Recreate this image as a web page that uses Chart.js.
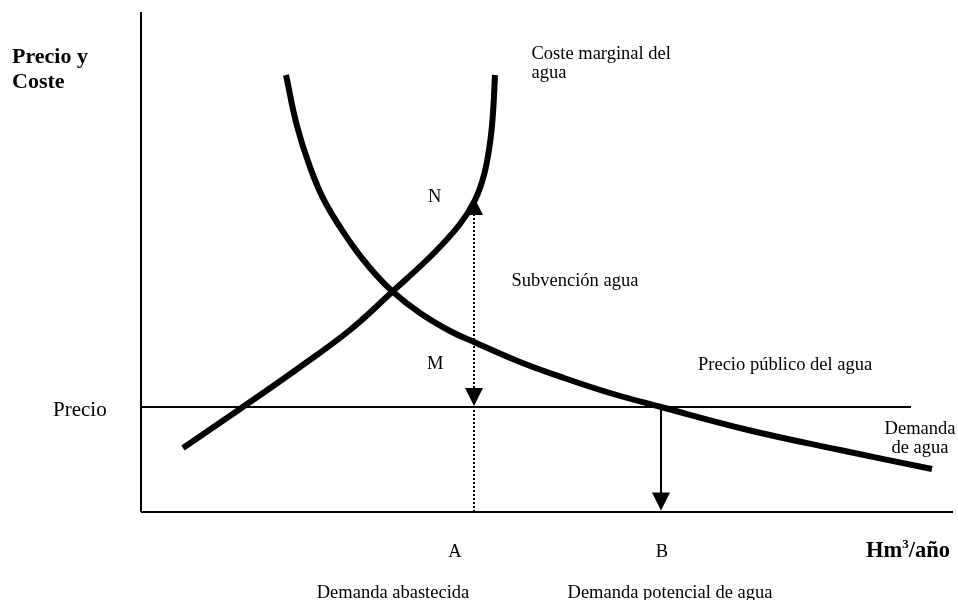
<!DOCTYPE html>
<html>
<head>
<meta charset="utf-8">
<script src="https://cdn.jsdelivr.net/npm/chart.js@4"></script>
<style>
  html, body { margin: 0; padding: 0; background: #ffffff; }
  #wrap { width: 958px; height: 600px; position: relative; }
</style>
</head>
<body>
<div id="wrap"><canvas id="c" width="958" height="600"></canvas></div>
<script>
// ---- Data (quantity units on x, price/cost units on y) ----
const demandQ = [145, 156, 169, 184, 209, 229, 251, 279, 309, 333, 379, 423, 469, 520, 607, 699, 791];
const demandP = [437, 386, 345, 310, 270, 244, 221, 199, 181, 170, 150, 134, 119, 105, 82, 62, 43];
const costQ = [42, 99, 159, 209, 251, 292, 319, 334, 343, 349, 352, 354];
const costP = [64, 103, 145, 182, 220, 258, 288, 312, 337, 369, 399, 437];
const precio = 105;          // public price level
const priceLineEnd = 770;    // extent of price line
const qA = 333;              // Demanda abastecida
const qB = 520;              // Demanda potencial de agua
const pN = 315;              // marginal cost at A (point N)
const axisQ = [0, 812];
const axisP = [0, 500];

const pts = (xs, ys) => xs.map((x, i) => ({ x: x, y: ys[i] }));

const FONT = '"Liberation Serif", "Times New Roman", serif';

const diagramPlugin = {
  id: 'diagram',
  afterDatasetsDraw(chart) {
    const ctx = chart.ctx;
    const xs = chart.scales.x, ys = chart.scales.y;
    const X = v => xs.getPixelForValue(v);
    const Y = v => ys.getPixelForValue(v);
    ctx.save();
    ctx.fillStyle = '#000';
    // arrowheads
    const tri = (x, tipY, dir) => {
      const h = 18, w = 9;
      ctx.beginPath();
      ctx.moveTo(x, tipY);
      ctx.lineTo(x - w, tipY - dir * h);
      ctx.lineTo(x + w, tipY - dir * h);
      ctx.closePath();
      ctx.fill();
    };
    tri(X(qA), Y(pN), -1);        // up arrow at N
    tri(X(qA), Y(precio) - 1, 1); // down arrow at price line
    tri(X(qB), Y(0) - 1.5, 1);    // down arrow at B

    // text labels
    const t = (s, x, y, size, bold, align) => {
      ctx.font = (bold ? 'bold ' : '') + size + 'px ' + FONT;
      ctx.textAlign = align || 'left';
      ctx.textBaseline = 'alphabetic';
      ctx.fillText(s, x, y);
    };
    t('Precio y', 12, 62.5, 22, true);
    t('Coste', 12, 88, 22, true);
    t('Precio', 53, 415.5, 21, false);
    t('Coste marginal del', 531.5, 58.5, 18.5, false);
    t('agua', 531.5, 77.5, 18.5, false);
    t('N', X(qA) - 46, 202, 18.5, false);
    t('M', X(qA) - 47, 369, 18.5, false);
    t('Subvención agua', 511.5, 286, 18.5, false);
    t('Precio público del agua', 698, 370, 18.5, false);
    t('Demanda', 920, 434, 18.5, false, 'center');
    t('de agua', 920, 453, 18.5, false, 'center');
    t('A', X(qA) - 19, 557, 18.5, false, 'center');
    t('B', X(qB) + 1, 557, 18.5, false, 'center');
    t('Demanda abastecida', 393, 598, 18.5, false, 'center');
    t('Demanda potencial de agua', 670, 598, 18.5, false, 'center');
    // Hm3/año
    ctx.font = 'bold 22.5px ' + FONT;
    ctx.textAlign = 'left';
    let x0 = 866;
    ctx.fillText('Hm', x0, 557);
    x0 += ctx.measureText('Hm').width;
    ctx.font = 'bold 13px ' + FONT;
    ctx.fillText('3', x0, 548);
    x0 += ctx.measureText('3').width;
    ctx.font = 'bold 22.5px ' + FONT;
    ctx.fillText('/año', x0, 557);
    ctx.restore();
  }
};

const lineDs = (data, width, extra) => Object.assign({
  data: data,
  borderColor: '#000',
  borderWidth: width,
  pointRadius: 0,
  pointHoverRadius: 0,
  fill: false,
  showLine: true,
  clip: false,
  borderCapStyle: 'butt',
  borderJoinStyle: 'round'
}, extra || {});

new Chart(document.getElementById('c'), {
  type: 'scatter',
  data: {
    datasets: [
      lineDs([{ x: axisQ[0], y: 0 }, { x: axisQ[1], y: 0 }], 2),
      lineDs([{ x: 0, y: axisP[0] }, { x: 0, y: axisP[1] }], 2),
      lineDs([{ x: 0, y: precio }, { x: priceLineEnd, y: precio }], 2),
      lineDs([{ x: qA, y: 0 }, { x: qA, y: pN - 10 }], 2, { borderDash: [2, 2] }),
      lineDs([{ x: qB, y: precio }, { x: qB, y: 10 }], 2),
      lineDs(pts(demandQ, demandP), 6, { tension: 0.4, cubicInterpolationMode: 'default' }),
      lineDs(pts(costQ, costP), 6, { tension: 0.4, cubicInterpolationMode: 'default' })
    ]
  },
  options: {
    responsive: false,
    animation: false,
    events: [],
    layout: { padding: { left: 141, right: 0, top: 12, bottom: 88 } },
    scales: {
      x: { type: 'linear', min: 0, max: 817, display: false },
      y: { type: 'linear', min: 0, max: 500, display: false }
    },
    plugins: { legend: { display: false }, tooltip: { enabled: false } }
  },
  plugins: [diagramPlugin]
});
</script>
</body>
</html>
